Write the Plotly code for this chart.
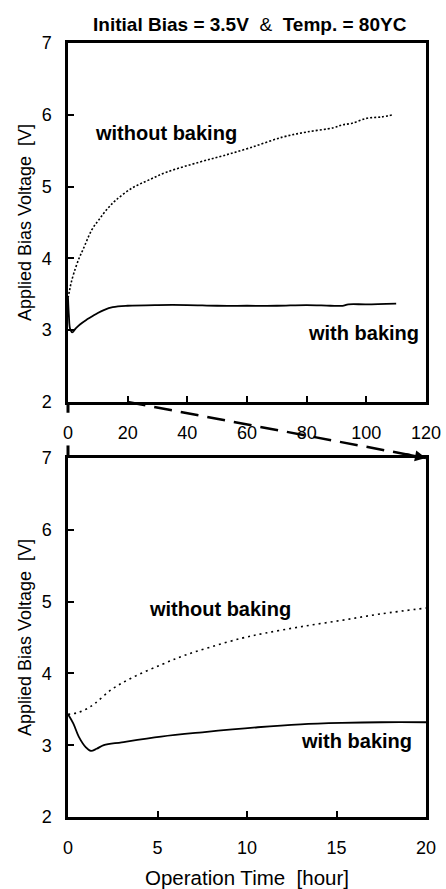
import plotly.graph_objects as go

# ---------------- data ----------------
top_t_without = [0, 0.5, 1, 2, 3.7, 5, 8, 10.4, 13, 16, 21.5, 27, 33, 44, 52, 61, 72, 80, 89, 92, 95, 100, 105, 109]
top_v_without = [3.45, 3.55, 3.65, 3.8, 4.0, 4.12, 4.40, 4.54, 4.68, 4.81, 4.98, 5.09, 5.20, 5.34, 5.43, 5.54, 5.69, 5.76, 5.82, 5.86, 5.88, 5.95, 5.97, 6.0]

top_t_with = [0, 0.3, 0.7, 1.4, 2.5, 4, 6, 8, 10, 12, 15, 20, 30, 40, 50, 60, 70, 80, 88, 92, 94, 100, 110]
top_v_with = [3.45, 3.2, 3.02, 2.97, 3.02, 3.08, 3.14, 3.19, 3.24, 3.28, 3.32, 3.34, 3.35, 3.35, 3.34, 3.34, 3.34, 3.35, 3.34, 3.34, 3.36, 3.36, 3.37]

bot_t_without = [0, 0.5, 1, 1.5, 2.4, 3.5, 5.2, 6.5, 8, 9.7, 11, 13, 15.3, 17.5, 20]
bot_v_without = [3.43, 3.45, 3.5, 3.58, 3.77, 3.93, 4.12, 4.25, 4.37, 4.49, 4.56, 4.65, 4.74, 4.83, 4.91]

bot_t_with = [0, 0.3, 0.6, 1.0, 1.28, 1.6, 2.0, 3, 5.2, 7.5, 10.6, 13, 15.3, 17.5, 20]
bot_v_with = [3.43, 3.3, 3.12, 2.97, 2.92, 2.95, 3.0, 3.04, 3.12, 3.18, 3.25, 3.29, 3.31, 3.32, 3.32]

top_xticks = [0, 20, 40, 60, 80, 100, 120]
bot_xticks = [0, 5, 10, 15, 20]
y_ticks = [2, 3, 4, 5, 6, 7]

title_text = "<b>Initial Bias = 3.5V</b>  &amp;  <b>Temp. = 80ΥC</b>"
ytitle = "Applied Bias Voltage \u00a0[V]"
xtitle = "Operation Time \u00a0[hour]"

# ---------------- layout constants ----------------
FONT = "Liberation Sans, Arial, sans-serif"
top_dom = [0.5362, 1.0]
bot_dom = [0.0, 0.4638]
top_range = [0, 120]
zoom_end = 20

fig = go.Figure()
fig.add_trace(go.Scatter(x=top_t_without, y=top_v_without, mode="lines", xaxis="x", yaxis="y",
                         line=dict(color="black", width=1.6, dash="2px,2px", shape="spline")))
fig.add_trace(go.Scatter(x=top_t_with, y=top_v_with, mode="lines", xaxis="x", yaxis="y",
                         line=dict(color="black", width=1.8, shape="spline")))
fig.add_trace(go.Scatter(x=bot_t_without, y=bot_v_without, mode="lines", xaxis="x2", yaxis="y2",
                         line=dict(color="black", width=1.6, dash="2px,4px", shape="spline")))
fig.add_trace(go.Scatter(x=bot_t_with, y=bot_v_with, mode="lines", xaxis="x2", yaxis="y2",
                         line=dict(color="black", width=1.8, shape="spline")))

axis_common = dict(showline=True, linecolor="black", linewidth=2.5, mirror=True,
                   ticks="inside", ticklen=6, tickwidth=2, tickcolor="black",
                   showgrid=False, zeroline=False, automargin=False,
                   tickfont=dict(family=FONT, size=18, color="black"))

fig.update_layout(
    width=446, height=889,
    margin=dict(l=68, r=20, t=43, b=72),
    paper_bgcolor="white", plot_bgcolor="white",
    showlegend=False,
    font=dict(family=FONT, color="black"),
    title=dict(text=title_text, x=0.56, xanchor="center", y=0.973, yanchor="middle",
               font=dict(family=FONT, size=19, color="black")),
    xaxis=dict(domain=[0, 1], range=top_range, tickvals=top_xticks, anchor="y",
               ticklabelstandoff=13, **axis_common),
    yaxis=dict(domain=top_dom, range=[2, 7], tickvals=y_ticks, anchor="x",
               ticklabelstandoff=10,
               title=dict(text=ytitle, standoff=6, font=dict(family=FONT, size=18, color="black")),
               **axis_common),
    xaxis2=dict(domain=[0, 1], range=[0, zoom_end], tickvals=bot_xticks, anchor="y2",
                ticklabelstandoff=13,
                title=dict(text=xtitle, standoff=23, font=dict(family=FONT, size=20.5, color="black")),
                **axis_common),
    yaxis2=dict(domain=bot_dom, range=[2, 7], tickvals=y_ticks, anchor="x2",
                ticklabelstandoff=10,
                title=dict(text=ytitle, standoff=6, font=dict(family=FONT, size=18, color="black")),
                **axis_common),
)

lab_font = dict(family=FONT, size=20, color="black")
fig.add_annotation(x=33.0, y=5.75, xref="x", yref="y", text="<b>without baking</b>", showarrow=False, font=lab_font)
fig.add_annotation(x=99.2, y=2.96, xref="x", yref="y", text="<b>with baking</b>", showarrow=False, font=lab_font)
fig.add_annotation(x=8.5, y=4.90, xref="x2", yref="y2", text="<b>without baking</b>", showarrow=False, font=lab_font)
fig.add_annotation(x=16.1, y=3.06, xref="x2", yref="y2", text="<b>with baking</b>", showarrow=False, font=lab_font)

# zoom connector: from (20 h, 2 V) of the upper panel to the top-right corner of the lower panel
x_start = (zoom_end - top_range[0]) / (top_range[1] - top_range[0])
y_start = top_dom[0]
x_end, y_end = 1.0, bot_dom[1]
fig.add_shape(type="line", xref="paper", yref="paper", x0=x_start, y0=y_start, x1=x_end, y1=y_end,
              line=dict(color="black", width=2.5, dash="18px,9px"))
fig.add_annotation(x=x_end, y=y_end, xref="paper", yref="paper", ax=-22, ay=-4.2,
                   axref="pixel", ayref="pixel", text="", showarrow=True,
                   arrowhead=2, arrowsize=1, arrowwidth=2.2, arrowcolor="black")

# left axis overhangs
fig.add_shape(type="line", xref="x domain", yref="y domain", x0=0, x1=0, y0=0, y1=-0.03,
              line=dict(color="black", width=3))
fig.add_shape(type="line", xref="x2 domain", yref="y2 domain", x0=0, x1=0, y0=1, y1=1.035,
              line=dict(color="black", width=3))

fig.write_html("out.html")
